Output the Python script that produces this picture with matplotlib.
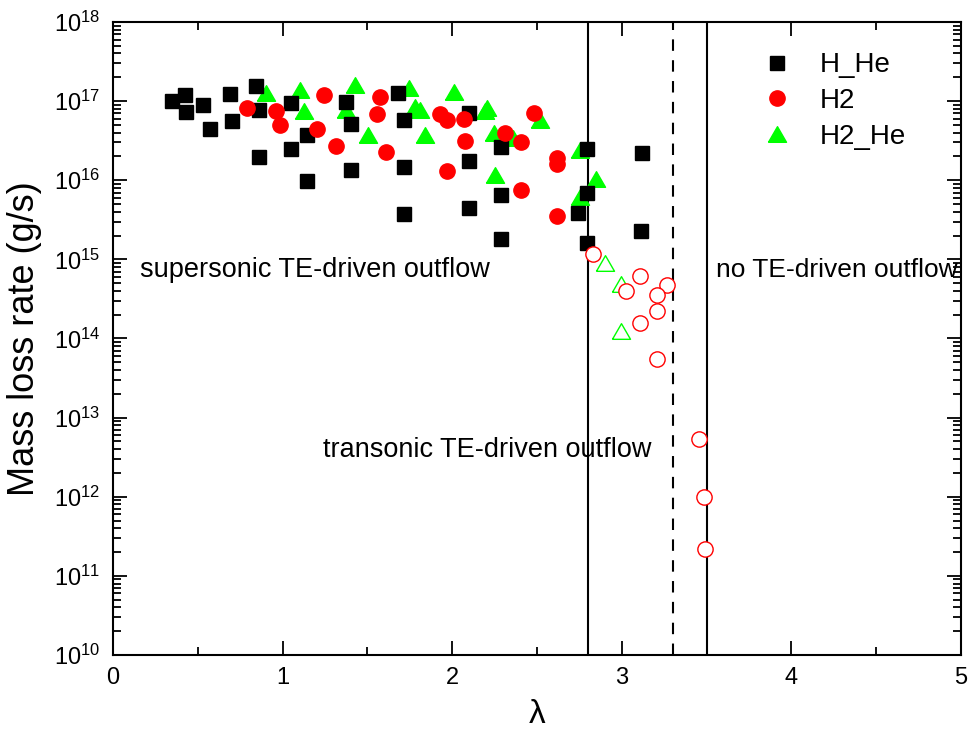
import numpy as np
import matplotlib
matplotlib.use("Agg")
import matplotlib.pyplot as plt
from matplotlib.ticker import MultipleLocator, LogLocator, NullFormatter

plt.rcParams['font.family'] = ['Liberation Sans', 'DejaVu Sans']
plt.rcParams['mathtext.fontset'] = 'custom'
plt.rcParams['mathtext.rm'] = 'Liberation Sans'
plt.rcParams['mathtext.it'] = 'Liberation Sans:italic'
plt.rcParams['mathtext.bf'] = 'Liberation Sans:bold'

# ---- data ----
hhe_x = [0.346, 0.423, 0.430, 0.528, 0.573, 0.688, 0.700, 0.843, 0.859, 0.859,
         1.050, 1.144, 1.050, 1.144, 1.371, 1.401, 1.401, 1.680, 1.714, 1.714,
         1.714, 2.099, 2.099, 2.099, 2.285, 2.285, 2.285, 2.741, 2.795, 2.795,
         2.795, 3.118, 3.114]
hhe_y = [1.0e17, 1.2e17, 7.3e16, 8.9e16, 4.4e16, 1.24e17, 5.6e16, 1.55e17, 7.7e16, 1.95e16,
         9.4e16, 3.7e16, 2.5e16, 9.8e15, 9.8e16, 5.2e16, 1.34e16, 1.28e17, 5.7e16, 1.45e16,
         3.7e15, 7.1e16, 1.74e16, 4.5e15, 2.6e16, 6.6e15, 1.8e15, 3.8e15, 2.5e16, 6.9e15,
         1.6e15, 2.2e16, 2.3e15]

h2_x = [0.788, 0.964, 0.984, 1.246, 1.203, 1.313, 1.575, 1.555, 1.608, 1.929,
        1.970, 2.070, 2.073, 1.970, 2.312, 2.406, 2.484, 2.406, 2.619, 2.619, 2.619]
h2_y = [8.3e16, 7.6e16, 5.0e16, 1.2e17, 4.4e16, 2.7e16, 1.12e17, 6.9e16, 2.3e16, 6.8e16,
        5.8e16, 5.9e16, 3.1e16, 1.3e16, 3.9e16, 3.0e16, 7.1e16, 7.6e15, 1.9e16, 1.6e16, 3.5e15]

h2_open_x = [2.830, 3.109, 3.022, 3.267, 3.208, 3.208, 3.109, 3.208, 3.457, 3.482, 3.490]
h2_open_y = [1.17e15, 6.2e14, 4.0e14, 4.8e14, 3.5e14, 2.2e14, 1.55e14, 5.5e13, 5.4e12, 1.0e12, 2.2e11]

h2he_x = [0.902, 1.103, 1.127, 1.426, 1.375, 1.502, 1.747, 1.782, 1.812, 1.839,
          2.013, 2.193, 2.208, 2.248, 2.359, 2.252, 2.516, 2.756, 2.848, 2.751]
h2he_y = [1.25e17, 1.4e17, 7.4e16, 1.6e17, 7.7e16, 3.7e16, 1.45e17, 8.5e16, 7.7e16, 3.7e16,
          1.3e17, 7.4e16, 8.1e16, 3.9e16, 3.4e16, 1.17e16, 5.8e16, 2.4e16, 1.05e16, 6.2e15]

h2he_open_x = [2.903, 2.997, 2.997]
h2he_open_y = [8.9e14, 4.9e14, 1.23e14]

boundaries_solid = [2.8, 3.5]
boundary_dashed = [3.3]

region_labels = ["supersonic TE-driven outflow", "transonic TE-driven outflow", "no TE-driven outflow"]

# ---- figure ----
fig = plt.figure(figsize=(9.71, 7.45), dpi=100)
ax = fig.add_axes([113/971, 1-655/745, 848/971, 633/745])

tri = [(-1, -0.866), (1, -0.866), (0, 0.866), (-1, -0.866)]

for xv in boundaries_solid:
    ax.axvline(xv, color='black', lw=1.5, zorder=1)
for xv in boundary_dashed:
    ax.axvline(xv, color='black', lw=1.5, ls=(0, (5.5, 4.5)), zorder=1)

ax.plot(hhe_x, hhe_y, ls='none', marker='s', ms=10, color='black', mec='black',
        label='H_He', zorder=3)
ax.plot(h2_x, h2_y, ls='none', marker='o', ms=11, color='red', mec='red',
        label='H2', zorder=4)
ax.plot(h2he_x, h2he_y, ls='none', marker=tri, ms=13, color='#00FF00', mec='#00FF00',
        label='H2_He', zorder=2)
ax.plot(h2_open_x, h2_open_y, ls='none', marker='o', ms=11, mfc='white', mec='red',
        mew=1.0, zorder=4)
ax.plot(h2he_open_x, h2he_open_y, ls='none', marker=tri, ms=13, mfc='white', mec='#00FF00',
        mew=1.0, zorder=2)

ax.set_yscale('log')
ax.set_xlim(0, 5)
ax.set_ylim(1e10, 1e18)
ax.xaxis.set_major_locator(MultipleLocator(1))
ax.xaxis.set_minor_locator(MultipleLocator(0.5))
ax.yaxis.set_major_locator(LogLocator(base=10, numticks=20))
ax.yaxis.set_minor_locator(LogLocator(base=10, subs=np.arange(2, 10), numticks=100))
ax.yaxis.set_minor_formatter(NullFormatter())

ax.tick_params(which='both', direction='in', top=True, right=True, width=1.3)
ax.tick_params(which='major', length=10, labelsize=17, pad=9)
ax.tick_params(which='minor', length=5.5)
ax.tick_params(axis='x', which='major', pad=9)
for sp in ax.spines.values():
    sp.set_linewidth(1.5)

ax.set_ylabel('Mass loss rate (g/s)', fontsize=26)
ax.yaxis.set_label_coords(-0.0837, 0.5)
ax.set_xlabel('λ', fontsize=24)
ax.xaxis.set_label_coords(0.5, -0.07)

ax.text(0.158, 7.3e14, region_labels[0], fontsize=19.5, ha='left', va='center')
ax.text(2.207, 3.9e12, region_labels[1], fontsize=19.5, ha='center', va='center')
ax.text(3.556, 7.3e14, region_labels[2], fontsize=19, ha='left', va='center')

ax.legend(loc='upper left', bbox_to_anchor=(0.7665, 0.952), frameon=False,
          borderpad=0, borderaxespad=0, handlelength=1.0, handletextpad=1.05,
          labelspacing=0.35, fontsize=20)

fig.savefig('out.png', dpi=100)
